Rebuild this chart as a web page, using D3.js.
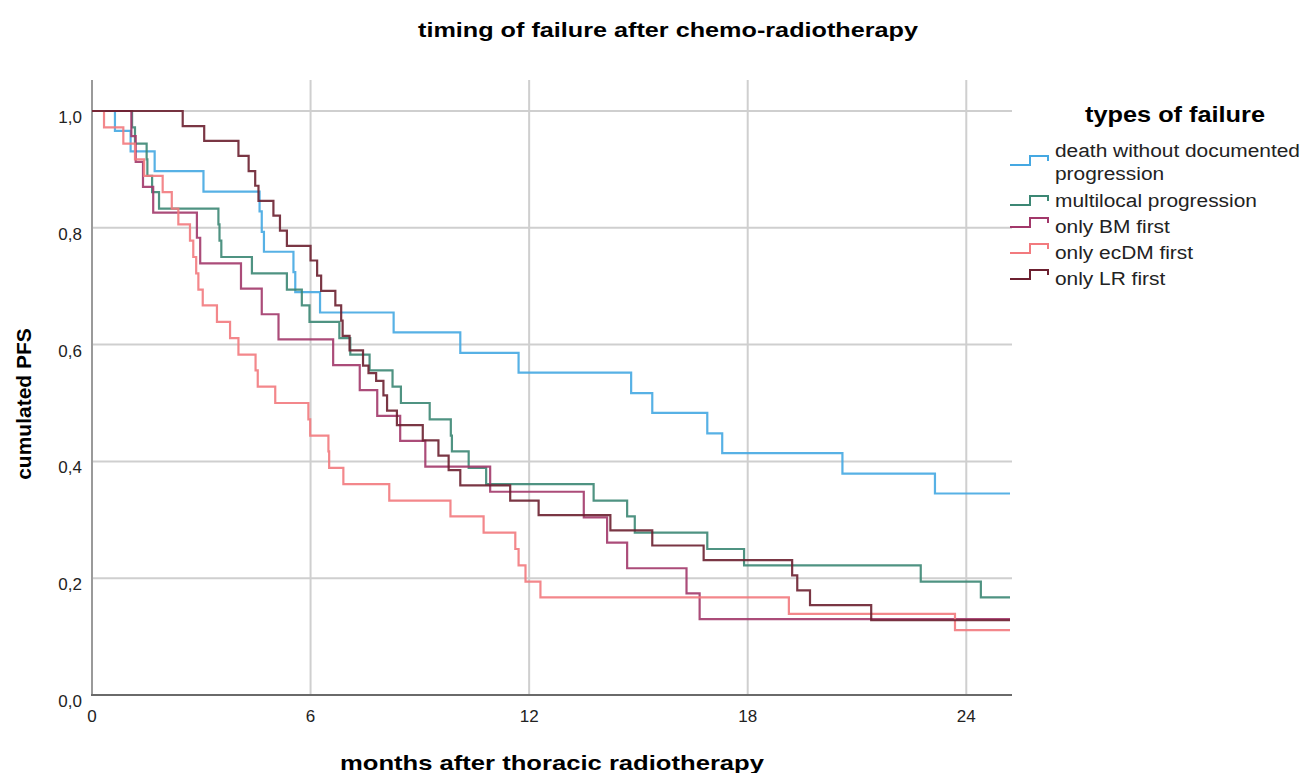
<!DOCTYPE html>
<html>
<head>
<meta charset="utf-8">
<script src="https://cdn.jsdelivr.net/npm/d3@7"></script>
<style>
  body { margin: 0; background: #fff; }
  svg { font-family: "Liberation Sans", Arial, sans-serif; }
  .grid line { stroke: #cfcfcf; stroke-width: 2; }
  .tick-label { font-size: 17px; fill: #222; }
  .curve { fill: none; stroke-width: 2.2; stroke-opacity: 0.9; }
</style>
</head>
<body>
<div id="viz"></div>
<script>
var width = 1303;
var height = 773;

// types of failure, in legend order
var categories = ["death without documented progression", "multilocal progression",
                  "only BM first", "only ecDM first", "only LR first"];
var colors = ["#45a8e2", "#3c8774", "#a2386a", "#f27a7e", "#6c2030"];

// Kaplan-Meier steps: months, cumulated PFS
var deathMonths = [0, 0.63, 1.06, 1.72, 3.06, 4.60, 4.66, 4.72, 5.53, 5.58, 6.26, 8.28, 10.11, 11.71, 14.80, 15.38, 16.89, 17.30, 20.60, 23.14];
var deathPfs    = [1, 0.966, 0.931, 0.897, 0.862, 0.828, 0.793, 0.759, 0.724, 0.690, 0.655, 0.621, 0.586, 0.552, 0.517, 0.483, 0.448, 0.414, 0.379, 0.345];

var multiMonths = [0, 1.10, 1.18, 1.50, 1.52, 1.65, 1.84, 3.47, 3.50, 3.55, 4.39, 5.35, 5.76, 5.97, 6.79, 7.09, 7.62, 8.25, 8.48, 9.27, 9.85, 9.88, 10.34, 10.82, 13.77, 14.69, 14.90, 16.89, 17.90, 22.75, 24.40];
var multiPfs    = [1, 0.972, 0.944, 0.917, 0.889, 0.861, 0.833, 0.806, 0.778, 0.750, 0.722, 0.694, 0.667, 0.639, 0.611, 0.583, 0.556, 0.528, 0.500, 0.472, 0.444, 0.417, 0.389, 0.361, 0.333, 0.306, 0.278, 0.250, 0.222, 0.194, 0.167];

var bmMonths = [0, 1.08, 1.20, 1.40, 1.68, 2.88, 2.97, 4.09, 4.66, 5.12, 6.62, 7.35, 7.83, 8.46, 9.15, 10.93, 13.50, 14.14, 14.69, 16.32, 16.68];
var bmPfs    = [1, 0.957, 0.913, 0.870, 0.826, 0.783, 0.739, 0.696, 0.652, 0.609, 0.565, 0.522, 0.478, 0.435, 0.391, 0.348, 0.304, 0.261, 0.217, 0.174, 0.130];

var ecdmMonths = [0, 0.33, 0.86, 1.18, 1.43, 1.94, 2.19, 2.37, 2.69, 2.78, 2.86, 2.92, 3.04, 3.43, 3.79, 4.02, 4.49, 4.55, 5.03, 5.94, 5.99, 6.49, 6.51, 6.90, 8.16, 9.84, 10.75, 11.62, 11.71, 11.90, 12.31, 19.13, 23.69];
var ecdmPfs    = [1, 0.972, 0.944, 0.917, 0.889, 0.861, 0.833, 0.806, 0.778, 0.750, 0.722, 0.694, 0.667, 0.639, 0.611, 0.583, 0.556, 0.528, 0.500, 0.472, 0.444, 0.417, 0.389, 0.361, 0.333, 0.306, 0.278, 0.250, 0.222, 0.194, 0.167, 0.139, 0.111];

var lrMonths = [0, 2.49, 3.08, 4.02, 4.30, 4.48, 4.57, 4.98, 5.16, 5.35, 6.00, 6.18, 6.29, 6.68, 6.84, 6.88, 7.07, 7.44, 7.59, 7.80, 8.00, 8.10, 8.37, 9.08, 9.51, 9.79, 10.11, 11.48, 12.26, 14.23, 15.38, 16.79, 19.22, 19.36, 19.71, 21.39];
var lrPfs    = [1, 0.974, 0.949, 0.923, 0.897, 0.872, 0.846, 0.821, 0.795, 0.769, 0.744, 0.718, 0.692, 0.667, 0.641, 0.615, 0.590, 0.564, 0.551, 0.538, 0.513, 0.487, 0.462, 0.436, 0.410, 0.385, 0.359, 0.333, 0.308, 0.282, 0.256, 0.231, 0.205, 0.179, 0.154, 0.128];

var lastMonth = 25.2;   // curves run out to the end of the axis
var xTicks = [0, 6, 12, 18, 24];
var yTicks = [0, 0.2, 0.4, 0.6, 0.8, 1.0];

var seriesMonths = [deathMonths, multiMonths, bmMonths, ecdmMonths, lrMonths];
var seriesPfs = [deathPfs, multiPfs, bmPfs, ecdmPfs, lrPfs];

var x = d3.scaleLinear().domain([0, lastMonth]).range([92, 1010]);
var y = d3.scaleLinear().domain([0, 1]).range([695, 111]);
var plotTop = 80;

var svg = d3.select("#viz").append("svg")
    .attr("width", width)
    .attr("height", height);

// the source picture is a bit wider than tall, so text gets stretched sideways
function stretch(sel, k) {
  sel.each(function() {
    var w = this.getComputedTextLength();
    d3.select(this).attr("textLength", w * k).attr("lengthAdjust", "spacingAndGlyphs");
  });
}

// grid
var grid = svg.append("g").attr("class", "grid");
grid.selectAll(".hgrid")
    .data(yTicks.filter(function(d) { return d > 0; }))
  .enter().append("line")
    .attr("x1", x(0)).attr("x2", x(lastMonth) + 2)
    .attr("y1", function(d) { return y(d); })
    .attr("y2", function(d) { return y(d); });
grid.selectAll(".vgrid")
    .data(xTicks.filter(function(d) { return d > 0; }))
  .enter().append("line")
    .attr("x1", function(d) { return x(d); })
    .attr("x2", function(d) { return x(d); })
    .attr("y1", plotTop).attr("y2", y(0));

// axes lines
svg.append("line")
    .attr("x1", x(0)).attr("x2", x(0))
    .attr("y1", plotTop).attr("y2", y(0))
    .style("stroke", "#9a9a9a").style("stroke-width", 2);
svg.append("line")
    .attr("x1", x(0) - 1).attr("x2", x(lastMonth) + 2)
    .attr("y1", y(0)).attr("y2", y(0))
    .style("stroke", "#6a6a6a").style("stroke-width", 2);

// tick labels
svg.selectAll(".ylab")
    .data(yTicks)
  .enter().append("text")
    .attr("class", "tick-label")
    .attr("x", 82)
    .attr("y", function(d) { return y(d) + 12; })
    .attr("text-anchor", "end")
    .text(function(d) { return d3.format(".1f")(d).replace(".", ","); });

svg.selectAll(".xlab")
    .data(xTicks)
  .enter().append("text")
    .attr("class", "tick-label")
    .attr("x", function(d) { return x(d); })
    .attr("y", 722)
    .attr("text-anchor", "middle")
    .text(function(d) { return d; });

// curves
var line = d3.line()
    .x(function(d) { return x(d[0]); })
    .y(function(d) { return y(d[1]); })
    .curve(d3.curveStepAfter);

seriesMonths.forEach(function(months, i) {
  var pts = months.map(function(m, j) { return [m, seriesPfs[i][j]]; });
  pts.push([lastMonth, seriesPfs[i][seriesPfs[i].length - 1]]);
  svg.append("path")
      .attr("class", "curve")
      .attr("d", line(pts))
      .style("stroke", colors[i]);
});

// titles
svg.append("text")
    .attr("x", 668).attr("y", 37)
    .attr("text-anchor", "middle")
    .attr("textLength", 500).attr("lengthAdjust", "spacingAndGlyphs")
    .style("font-weight", "bold").style("font-size", "21px")
    .text("timing of failure after chemo-radiotherapy");

svg.append("text")
    .attr("x", 552).attr("y", 770)
    .attr("text-anchor", "middle")
    .attr("textLength", 424).attr("lengthAdjust", "spacingAndGlyphs")
    .style("font-weight", "bold").style("font-size", "21px")
    .text("months after thoracic radiotherapy");

svg.append("text")
    .attr("transform", "translate(31,404) rotate(-90)")
    .attr("text-anchor", "middle")
    .style("font-weight", "bold").style("font-size", "21px")
    .text("cumulated PFS");

// legend
svg.append("text")
    .attr("x", 1175).attr("y", 122)
    .attr("text-anchor", "middle")
    .attr("textLength", 180).attr("lengthAdjust", "spacingAndGlyphs")
    .style("font-weight", "bold").style("font-size", "22px")
    .text("types of failure");

var legendRows = [
  { lines: ["death without documented", "progression"], base: 157, sym: 165 },
  { lines: ["multilocal progression"], base: 207, sym: 205 },
  { lines: ["only BM first"], base: 233, sym: 227 },
  { lines: ["only ecDM first"], base: 259, sym: 253 },
  { lines: ["only LR first"], base: 285, sym: 279 }
];

legendRows.forEach(function(r, i) {
  var s = r.sym;
  svg.append("path")
      .attr("d", "M1010," + s + "H1030V" + (s - 9) + "H1048V" + (s - 4))
      .style("fill", "none")
      .style("stroke", colors[i])
      .style("stroke-width", 2);
  r.lines.forEach(function(l, k) {
    svg.append("text")
        .attr("x", 1055).attr("y", r.base + k * 23)
        .style("font-size", "18px").style("fill", "#222")
        .text(l)
        .call(stretch, 1.16);
  });
});
</script>
</body>
</html>
